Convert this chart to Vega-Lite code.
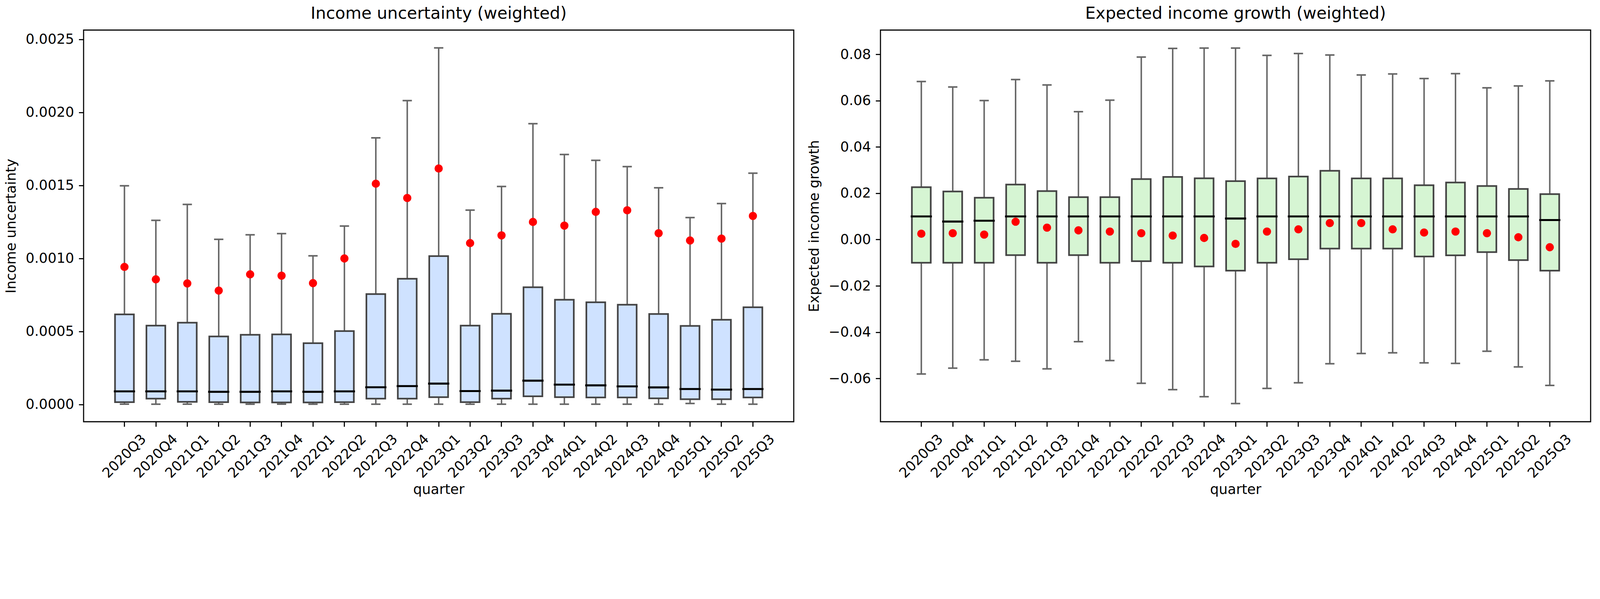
{
  "$schema": "https://vega.github.io/schema/vega-lite/v6.json",
  "background": "white",
  "padding": {"left": 10, "top": 12, "right": 20, "bottom": 12},
  "spacing": 31,
  "config": {
    "font": "DejaVu Sans",
    "view": {"stroke": "black", "strokeWidth": 2.8},
    "axis": {
      "labelFont": "DejaVu Sans", "labelFontSize": 35.4, "labelColor": "black",
      "titleFont": "DejaVu Sans", "titleFontSize": 35.4, "titleFontWeight": "normal", "titleColor": "black",
      "tickColor": "black", "tickWidth": 2.8, "tickSize": 12.4, "labelPadding": 12.4,
      "domain": false, "grid": false
    },
    "axisY": {"titlePadding": 18.7},
    "axisX": {"labelAngle": -45, "labelAlign": "center", "labelBaseline": "middle", "labelPadding": 75.6, "titlePadding": 6, "labelOverlap": false, "labelFlush": false},
    "title": {"font": "DejaVu Sans", "fontSize": 42.4, "fontWeight": "normal", "color": "black", "frame": "group", "anchor": "middle", "baseline": "alphabetic", "offset": 19.5}
  },
  "datasets": {
    "unc": [
      {"quarter": "2020Q3", "lo": 0.000002, "q1": 0.000016, "med": 0.00009, "q3": 0.000617, "hi": 0.001498, "mean": 0.000942},
      {"quarter": "2020Q4", "lo": 0.000002, "q1": 0.00004, "med": 0.00009, "q3": 0.00054, "hi": 0.001261, "mean": 0.000857},
      {"quarter": "2021Q1", "lo": 0.000002, "q1": 0.000018, "med": 0.00009, "q3": 0.00056, "hi": 0.00137, "mean": 0.000829},
      {"quarter": "2021Q2", "lo": 0.000002, "q1": 0.000016, "med": 0.000087, "q3": 0.000466, "hi": 0.001131, "mean": 0.00078},
      {"quarter": "2021Q3", "lo": 0.000002, "q1": 0.000014, "med": 0.000087, "q3": 0.000477, "hi": 0.001162, "mean": 0.000891},
      {"quarter": "2021Q4", "lo": 0.000002, "q1": 0.000014, "med": 0.00009, "q3": 0.00048, "hi": 0.00117, "mean": 0.000882},
      {"quarter": "2022Q1", "lo": 0.000002, "q1": 0.000014, "med": 0.000087, "q3": 0.00042, "hi": 0.001018, "mean": 0.000831},
      {"quarter": "2022Q2", "lo": 0.000002, "q1": 0.000016, "med": 0.00009, "q3": 0.000503, "hi": 0.001222, "mean": 0.001},
      {"quarter": "2022Q3", "lo": 0.000002, "q1": 0.00004, "med": 0.000118, "q3": 0.000756, "hi": 0.001826, "mean": 0.001512},
      {"quarter": "2022Q4", "lo": 0.000002, "q1": 0.00004, "med": 0.000126, "q3": 0.000861, "hi": 0.002081, "mean": 0.001414},
      {"quarter": "2023Q1", "lo": 0.000002, "q1": 0.00005, "med": 0.000143, "q3": 0.001016, "hi": 0.002442, "mean": 0.001616},
      {"quarter": "2023Q2", "lo": 0.000002, "q1": 0.000016, "med": 0.000092, "q3": 0.00054, "hi": 0.001331, "mean": 0.001105},
      {"quarter": "2023Q3", "lo": 0.000002, "q1": 0.00004, "med": 0.000095, "q3": 0.000621, "hi": 0.001493, "mean": 0.001158},
      {"quarter": "2023Q4", "lo": 0.000002, "q1": 0.000056, "med": 0.000163, "q3": 0.000803, "hi": 0.001923, "mean": 0.00125},
      {"quarter": "2024Q1", "lo": 0.000002, "q1": 0.00005, "med": 0.000136, "q3": 0.000717, "hi": 0.001712, "mean": 0.001225},
      {"quarter": "2024Q2", "lo": 0.000002, "q1": 0.000048, "med": 0.000131, "q3": 0.0007, "hi": 0.001672, "mean": 0.001319},
      {"quarter": "2024Q3", "lo": 0.000002, "q1": 0.000048, "med": 0.000124, "q3": 0.000683, "hi": 0.001629, "mean": 0.00133},
      {"quarter": "2024Q4", "lo": 0.000002, "q1": 0.000042, "med": 0.000117, "q3": 0.00062, "hi": 0.001484, "mean": 0.001173},
      {"quarter": "2025Q1", "lo": 0.000007, "q1": 0.000036, "med": 0.000106, "q3": 0.000538, "hi": 0.00128, "mean": 0.001123},
      {"quarter": "2025Q2", "lo": 0.000002, "q1": 0.000036, "med": 0.000102, "q3": 0.00058, "hi": 0.001376, "mean": 0.001136},
      {"quarter": "2025Q3", "lo": 0.000002, "q1": 0.000048, "med": 0.000106, "q3": 0.000666, "hi": 0.001584, "mean": 0.001291}
    ],
    "gro": [
      {"quarter": "2020Q3", "lo": -0.05807, "q1": -0.01, "med": 0.01, "q3": 0.02261, "hi": 0.06826, "mean": 0.00252},
      {"quarter": "2020Q4", "lo": -0.05555, "q1": -0.01, "med": 0.00777, "q3": 0.02077, "hi": 0.06591, "mean": 0.00273},
      {"quarter": "2021Q1", "lo": -0.05197, "q1": -0.01, "med": 0.00814, "q3": 0.01807, "hi": 0.06007, "mean": 0.00215},
      {"quarter": "2021Q2", "lo": -0.05258, "q1": -0.00674, "med": 0.01, "q3": 0.02377, "hi": 0.06913, "mean": 0.0077},
      {"quarter": "2021Q3", "lo": -0.05586, "q1": -0.01, "med": 0.01, "q3": 0.02092, "hi": 0.06679, "mean": 0.00514},
      {"quarter": "2021Q4", "lo": -0.04412, "q1": -0.00674, "med": 0.01, "q3": 0.0183, "hi": 0.05525, "mean": 0.00398},
      {"quarter": "2022Q1", "lo": -0.05228, "q1": -0.01, "med": 0.01, "q3": 0.0183, "hi": 0.06022, "mean": 0.00346},
      {"quarter": "2022Q2", "lo": -0.0621, "q1": -0.00933, "med": 0.01, "q3": 0.02611, "hi": 0.07884, "mean": 0.00273},
      {"quarter": "2022Q3", "lo": -0.06484, "q1": -0.01, "med": 0.01, "q3": 0.02706, "hi": 0.08258, "mean": 0.00172},
      {"quarter": "2022Q4", "lo": -0.06789, "q1": -0.01161, "med": 0.01, "q3": 0.02647, "hi": 0.08272, "mean": 0.00069},
      {"quarter": "2023Q1", "lo": -0.07085, "q1": -0.01344, "med": 0.00909, "q3": 0.02523, "hi": 0.08272, "mean": -0.00186},
      {"quarter": "2023Q2", "lo": -0.06431, "q1": -0.01001, "med": 0.01, "q3": 0.0264, "hi": 0.07957, "mean": 0.00346},
      {"quarter": "2023Q3", "lo": -0.06188, "q1": -0.00849, "med": 0.01, "q3": 0.0272, "hi": 0.08037, "mean": 0.00441},
      {"quarter": "2023Q4", "lo": -0.05365, "q1": -0.00392, "med": 0.01, "q3": 0.02969, "hi": 0.07973, "mean": 0.00712},
      {"quarter": "2024Q1", "lo": -0.04923, "q1": -0.00392, "med": 0.01, "q3": 0.0264, "hi": 0.0711, "mean": 0.00712},
      {"quarter": "2024Q2", "lo": -0.04893, "q1": -0.00392, "med": 0.01, "q3": 0.0264, "hi": 0.07154, "mean": 0.00441},
      {"quarter": "2024Q3", "lo": -0.05327, "q1": -0.00734, "med": 0.01, "q3": 0.02348, "hi": 0.06956, "mean": 0.00302},
      {"quarter": "2024Q4", "lo": -0.0535, "q1": -0.00681, "med": 0.01, "q3": 0.02465, "hi": 0.07168, "mean": 0.00346},
      {"quarter": "2025Q1", "lo": -0.04825, "q1": -0.00544, "med": 0.01, "q3": 0.02311, "hi": 0.06555, "mean": 0.00273},
      {"quarter": "2025Q2", "lo": -0.05502, "q1": -0.00888, "med": 0.01, "q3": 0.02188, "hi": 0.06636, "mean": 0.00099},
      {"quarter": "2025Q3", "lo": -0.06302, "q1": -0.01344, "med": 0.00843, "q3": 0.01961, "hi": 0.06855, "mean": -0.00332}
    ]
  },
  "hconcat": [
    {
      "title": "Income uncertainty (weighted)",
      "width": 1818, "height": 1003,
      "data": {"name": "unc"},
      "encoding": {
        "x": {"field": "quarter", "type": "ordinal", "title": "quarter", "scale": {"paddingInner": 0.4, "paddingOuter": 1.033}}
      },
      "layer": [
        {"mark": {"type": "rule", "color": "#666666", "strokeWidth": 3.8},
         "encoding": {
           "y": {"field": "lo", "type": "quantitative", "title": "Income uncertainty", "scale": {"domain": [-0.000118, 0.002564], "nice": false, "zero": false}, "axis": {"values": [0, 0.0005, 0.001, 0.0015, 0.002, 0.0025], "format": ".4f"}},
           "y2": {"field": "hi"}}},
        {"mark": {"type": "bar", "fill": "#cfe2ff", "stroke": "#444444", "strokeWidth": 4.25, "opacity": 1},
         "encoding": {
           "y": {"field": "q1", "type": "quantitative", "title": "Income uncertainty", "scale": {"domain": [-0.000118, 0.002564], "nice": false, "zero": false}, "axis": {"values": [0, 0.0005, 0.001, 0.0015, 0.002, 0.0025], "format": ".4f"}},
           "y2": {"field": "q3"}}},
        {"mark": {"type": "tick", "color": "black", "size": 54.3, "thickness": 5.1, "opacity": 1},
         "encoding": {
           "y": {"field": "med", "type": "quantitative", "title": "Income uncertainty", "scale": {"domain": [-0.000118, 0.002564], "nice": false, "zero": false}, "axis": {"values": [0, 0.0005, 0.001, 0.0015, 0.002, 0.0025], "format": ".4f"}}}},
        {"mark": {"type": "tick", "color": "#666666", "size": 23.8, "thickness": 4, "opacity": 1},
         "encoding": {
           "y": {"field": "lo", "type": "quantitative", "title": "Income uncertainty", "scale": {"domain": [-0.000118, 0.002564], "nice": false, "zero": false}, "axis": {"values": [0, 0.0005, 0.001, 0.0015, 0.002, 0.0025], "format": ".4f"}}}},
        {"mark": {"type": "tick", "color": "#666666", "size": 23.8, "thickness": 4, "opacity": 1},
         "encoding": {
           "y": {"field": "hi", "type": "quantitative", "title": "Income uncertainty", "scale": {"domain": [-0.000118, 0.002564], "nice": false, "zero": false}, "axis": {"values": [0, 0.0005, 0.001, 0.0015, 0.002, 0.0025], "format": ".4f"}}}},
        {"mark": {"type": "point", "filled": true, "color": "#ff0000", "size": 444, "opacity": 1, "strokeWidth": 0},
         "encoding": {
           "y": {"field": "mean", "type": "quantitative", "title": "Income uncertainty", "scale": {"domain": [-0.000118, 0.002564], "nice": false, "zero": false}, "axis": {"values": [0, 0.0005, 0.001, 0.0015, 0.002, 0.0025], "format": ".4f"}}}}
      ]
    },
    {
      "title": "Expected income growth (weighted)",
      "width": 1818, "height": 1003,
      "data": {"name": "gro"},
      "encoding": {
        "x": {"field": "quarter", "type": "ordinal", "title": "quarter", "scale": {"paddingInner": 0.4, "paddingOuter": 1.033}}
      },
      "layer": [
        {"mark": {"type": "rule", "color": "#666666", "strokeWidth": 3.8},
         "encoding": {
           "y": {"field": "lo", "type": "quantitative", "title": "Expected income growth", "scale": {"domain": [-0.0787, 0.0905], "nice": false, "zero": false}, "axis": {"values": [-0.06, -0.04, -0.02, 0, 0.02, 0.04, 0.06, 0.08], "format": ".2f"}},
           "y2": {"field": "hi"}}},
        {"mark": {"type": "bar", "fill": "#d6f5d3", "stroke": "#444444", "strokeWidth": 4.25, "opacity": 1},
         "encoding": {
           "y": {"field": "q1", "type": "quantitative", "title": "Expected income growth", "scale": {"domain": [-0.0787, 0.0905], "nice": false, "zero": false}, "axis": {"values": [-0.06, -0.04, -0.02, 0, 0.02, 0.04, 0.06, 0.08], "format": ".2f"}},
           "y2": {"field": "q3"}}},
        {"mark": {"type": "tick", "color": "black", "size": 54.3, "thickness": 5.1, "opacity": 1},
         "encoding": {
           "y": {"field": "med", "type": "quantitative", "title": "Expected income growth", "scale": {"domain": [-0.0787, 0.0905], "nice": false, "zero": false}, "axis": {"values": [-0.06, -0.04, -0.02, 0, 0.02, 0.04, 0.06, 0.08], "format": ".2f"}}}},
        {"mark": {"type": "tick", "color": "#666666", "size": 23.8, "thickness": 4, "opacity": 1},
         "encoding": {
           "y": {"field": "lo", "type": "quantitative", "title": "Expected income growth", "scale": {"domain": [-0.0787, 0.0905], "nice": false, "zero": false}, "axis": {"values": [-0.06, -0.04, -0.02, 0, 0.02, 0.04, 0.06, 0.08], "format": ".2f"}}}},
        {"mark": {"type": "tick", "color": "#666666", "size": 23.8, "thickness": 4, "opacity": 1},
         "encoding": {
           "y": {"field": "hi", "type": "quantitative", "title": "Expected income growth", "scale": {"domain": [-0.0787, 0.0905], "nice": false, "zero": false}, "axis": {"values": [-0.06, -0.04, -0.02, 0, 0.02, 0.04, 0.06, 0.08], "format": ".2f"}}}},
        {"mark": {"type": "point", "filled": true, "color": "#ff0000", "size": 444, "opacity": 1, "strokeWidth": 0},
         "encoding": {
           "y": {"field": "mean", "type": "quantitative", "title": "Expected income growth", "scale": {"domain": [-0.0787, 0.0905], "nice": false, "zero": false}, "axis": {"values": [-0.06, -0.04, -0.02, 0, 0.02, 0.04, 0.06, 0.08], "format": ".2f"}}}}
      ]
    }
  ]
}
